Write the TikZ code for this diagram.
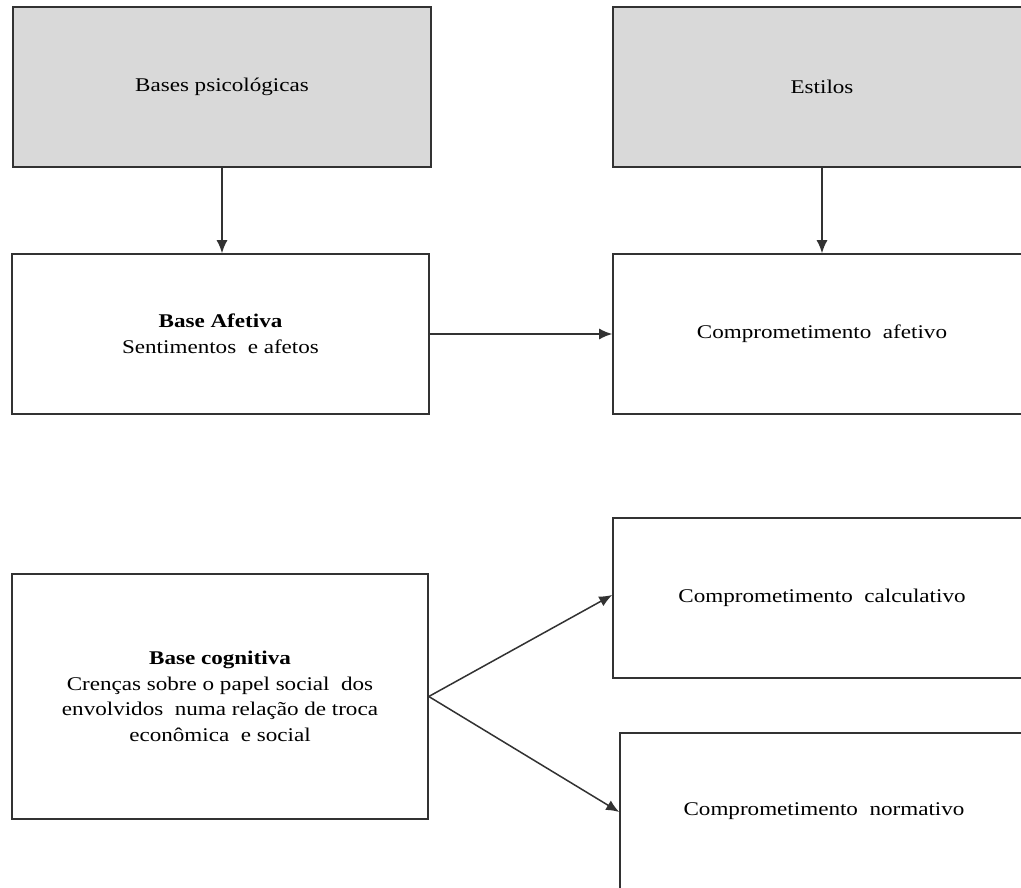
\documentclass[tikz,border=0pt]{standalone}
\usepackage{fontspec}
\setmainfont{Liberation Serif}[FakeStretch=1.19]
\usetikzlibrary{arrows.meta,positioning}
\definecolor{EdgeGrey}{RGB}{50,50,50}
\definecolor{SoftGrey}{RGB}{217,217,217}
\tikzset{
  box/.style={draw=EdgeGrey,line width=1.6pt,fill=white,minimum width=418pt,
    minimum height=160pt,align=center,inner sep=0pt,
    font=\fontsize{19.4}{25.5}\selectfont},
  topbox/.style={box,fill=SoftGrey},
  arrow/.style={-{Latex[length=13pt,width=11pt]},line width=1.5pt,EdgeGrey}
}

\begin{document}
\begin{tikzpicture}[x=1pt,y=-1pt]
      \clip (0,0) rectangle (1021,888);
      \fill[white] (0,0) rectangle (1021,888);
      % upper row
      \node[topbox] (bases) at (222,87) {Bases psicológicas};
      \node[topbox] (estilos) at (822,87) {Estilos};
      \node[box,minimum width=417pt] (afetiva) at (220.5,334)
        {\textbf{Base Afetiva}\\Sentimentos\ \ e afetos};
      \node[box] (cafetivo) at (822,334) {Comprometimento\ \ afetivo};
      % lower row
      \node[box,minimum width=416pt,minimum height=245pt] (cognitiva) at (220,696.5)
        {\textbf{Base cognitiva}\\Crenças sobre o papel social\ \ dos\\
         envolvidos\ \ numa relação de troca\\econômica\ \ e social};
      \node[box] (calculativo) at (822,598) {Comprometimento\ \ calculativo};
      \node[box,minimum width=408pt,minimum height=156pt] (normativo) at (824,811)
        {Comprometimento\ \ normativo};
      % connectors
      \draw[arrow] (bases.south) -- (bases.south |- afetiva.north);
      \draw[arrow] (estilos.south) -- (cafetivo.north);
      \draw[arrow] (afetiva.east) -- (afetiva.east -| cafetivo.west);
      \draw[arrow] (cognitiva.east) -- ([yshift=3pt]calculativo.west);
      \draw[arrow] (cognitiva.east) -- ([yshift=-1pt]normativo.west);
    \end{tikzpicture}
\end{document}
